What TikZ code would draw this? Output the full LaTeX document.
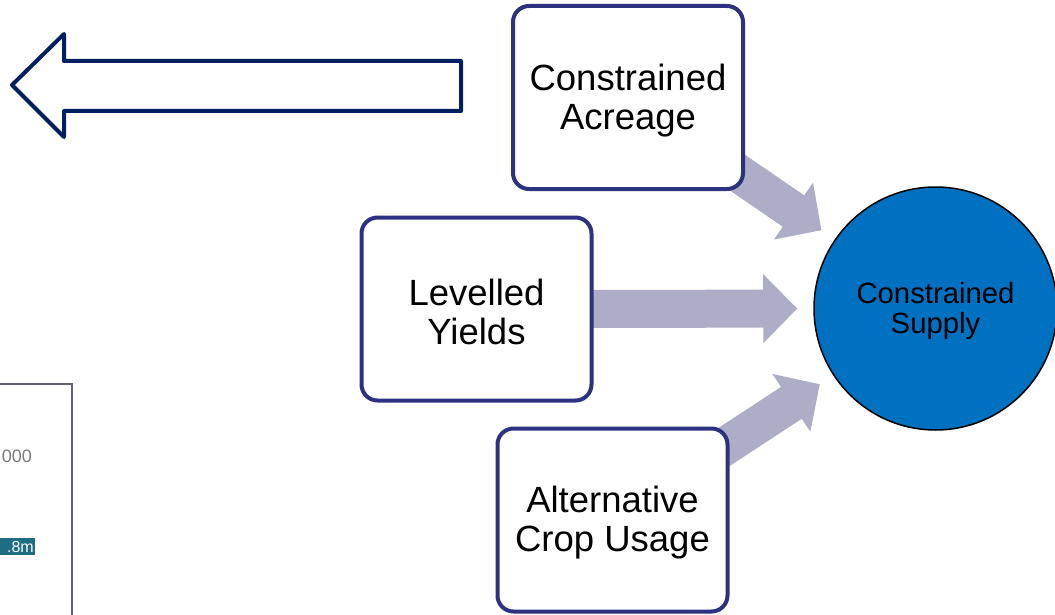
\documentclass[tikz,border=0pt]{standalone}
\usepackage{fontspec}
\setmainfont{Liberation Sans}
\usetikzlibrary{arrows.meta,backgrounds}
\definecolor{boxedge}{HTML}{2E3080}
\definecolor{navy}{HTML}{002060}
\definecolor{flowgray}{HTML}{ADADC7}
\definecolor{supplyblue}{HTML}{0070C0}
\definecolor{framegray}{HTML}{5E5E6E}
\definecolor{tagteal}{HTML}{1F6D82}
\definecolor{numgray}{HTML}{7A7A7A}
% invisible struts that lower the first text line a little
\newcommand{\boxlift}{\rule{0pt}{32pt}}
\newcommand{\ballift}{\rule{0pt}{26pt}}

\begin{document}
\begin{tikzpicture}[x=1pt,y=-1pt,
  factorbox/.style={draw=boxedge, line width=4pt, fill=white, rounded corners=16pt,
    minimum width=230pt, minimum height=183pt, align=center, inner sep=0pt,
    font=\fontsize{36.5}{39}\selectfont},
  supplynode/.style={circle, draw=black, line width=1.5pt, fill=supplyblue,
    minimum size=243pt, align=center, inner sep=0pt,
    font=\fontsize{29.3}{30}\selectfont},
  flow/.style={draw=flowgray, line width=38pt,
    -{Triangle[length=34pt,width=67pt]}, shorten >=16pt},
  bigarrow/.style={draw=navy, line width=4pt, line join=round, fill=white},
]
\useasboundingbox (0,0) rectangle (1055,615);

% hollow arrow pointing left
\draw[bigarrow] (12,85) -- (64,34) -- (64,61) -- (461,61) -- (461,111)
  -- (64,111) -- (64,137) -- cycle;

% inset panel at the lower left
\draw[framegray, line width=1.5pt] (-4,384) -- (72,384) -- (72,620);
\node[anchor=east, text=numgray, inner sep=0pt, font=\fontsize{18}{18}\selectfont]
  (total) at (32,456) {000};
\fill[tagteal] (-4,538) rectangle (35,555);
\node[anchor=east, text=white, inner sep=0pt, font=\fontsize{16}{16}\selectfont]
  (tag) at (34,547) {.8m};

% factor boxes and the result
\node[factorbox] (acre)  at (628,97.5)  {\boxlift Constrained\\Acreage};
\node[factorbox] (yield) at (476.5,309) {\boxlift Levelled\\Yields};
\node[factorbox] (crop)  at (612.5,520) {\boxlift Alternative\\Crop Usage};
\node[supplynode] (supply) at (935.5,308.5) {\ballift Constrained\\Supply};

% broad arrows feeding the result, behind the boxes
\begin{scope}[on background layer]
  \draw[flow] (acre.center)  -- (supply);
  \draw[flow] (yield.center) -- (supply);
  \draw[flow] (crop.center)  -- (supply);
\end{scope}
\end{tikzpicture}
\end{document}
